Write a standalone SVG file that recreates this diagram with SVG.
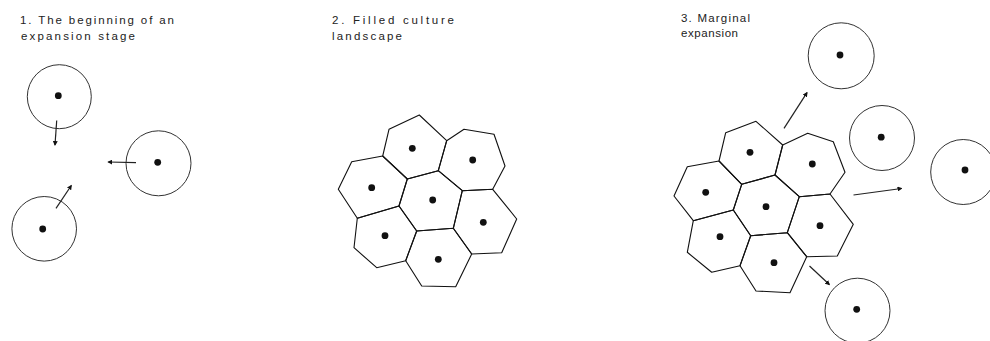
<svg xmlns="http://www.w3.org/2000/svg" width="990" height="341" viewBox="0 0 990 341">
<defs>
<style>
.t{font-family:"Liberation Sans",Arial,sans-serif;font-size:11.5px;fill:#222;}
.c{fill:none;stroke:#333;stroke-width:1;}
.h{fill:none;stroke:#111;stroke-width:1.1;stroke-linejoin:round;}
.d{fill:#111;}
.a{fill:none;stroke:#222;stroke-width:1.2;marker-end:url(#ah);}
</style>
<marker id="ah" viewBox="0 0 10 10" refX="8" refY="5" markerWidth="5" markerHeight="5" orient="auto" markerUnits="userSpaceOnUse">
<path d="M0,0 L10,5 L0,10 Z" fill="#111"/>
</marker>
</defs>
<rect width="990" height="341" fill="#fff"/>

<g id="titles">
<text class="t" x="20" y="24" textLength="154" lengthAdjust="spacing">1. The beginning of an</text>
<text class="t" x="21" y="39.5" textLength="114" lengthAdjust="spacing">expansion stage</text>
<text class="t" x="332" y="24" textLength="122" lengthAdjust="spacing">2. Filled culture</text>
<text class="t" x="332" y="40" textLength="70" lengthAdjust="spacing">landscape</text>
<text class="t" x="681" y="22" textLength="69" lengthAdjust="spacing">3. Marginal</text>
<text class="t" x="681" y="37" textLength="57" lengthAdjust="spacing">expansion</text>
</g>

<!-- Panel 1 -->
<g id="p1-settlement-a"><circle class="c" cx="59.3" cy="96.7" r="32"/><circle class="d" cx="58.3" cy="95.7" r="3.4"/></g>
<g id="p1-settlement-b"><circle class="c" cx="158.5" cy="163.3" r="32.5"/><circle class="d" cx="157.7" cy="162.3" r="3.4"/></g>
<g id="p1-settlement-c"><circle class="c" cx="44.2" cy="228.8" r="32.3"/><circle class="d" cx="42.7" cy="229" r="3.4"/></g>

<!-- Panel 2 -->
<g id="p2-cell-top"><polygon class="h" points="389,129.3 419.3,115 446.7,140.7 438.3,170.7 407.3,179 382.7,156"/><circle class="d" cx="412.3" cy="148.3" r="3.4"/></g>
<g id="p2-cell-right-top"><polygon class="h" points="446.7,140.7 464,129.3 494,134.3 505,166 492.7,189.3 462.3,190.7 438.3,170.7"/><circle class="d" cx="472.7" cy="160" r="3.4"/></g>
<g id="p2-cell-left"><polygon class="h" points="382.7,156 351.7,161.7 338.3,189.3 357.3,218.3 399,206 407.3,179"/><circle class="d" cx="371.7" cy="187.7" r="3.4"/></g>
<g id="p2-cell-center"><polygon class="h" points="407.3,179 438.3,170.7 462.3,190.7 453.3,228.3 416.7,231 399,206"/><circle class="d" cx="432.7" cy="200" r="3.4"/></g>
<g id="p2-cell-right-bottom"><polygon class="h" points="462.3,190.7 492.7,189.3 516.7,219 501.7,252.7 471.7,254 453.3,228.3"/><circle class="d" cx="483.3" cy="222.3" r="3.4"/></g>
<g id="p2-cell-left-bottom"><polygon class="h" points="357.3,218.3 399,206 416.7,231 405.7,260.7 376.7,267.7 354,247.7"/><circle class="d" cx="385" cy="235.7" r="3.4"/></g>
<g id="p2-cell-bottom"><polygon class="h" points="416.7,231 453.3,228.3 471.7,254 455.7,286.7 421.7,286 405.7,260.7"/><circle class="d" cx="438.3" cy="259.3" r="3.4"/></g>

<!-- Panel 3 -->
<g id="p3-cell-top"><polygon class="h" points="725.7,132.7 756,121.3 782.7,145 775,175 741.7,184.3 719,161"/><circle class="d" cx="750" cy="152.3" r="3.4"/></g>
<g id="p3-cell-right-top"><polygon class="h" points="782.7,145 807.7,133.3 833.3,141.7 845,172.3 830,194 799.3,196.7 775,175"/><circle class="d" cx="812.3" cy="164" r="3.4"/></g>
<g id="p3-cell-left"><polygon class="h" points="719,161 687.3,166.7 674,196 693.3,220.7 733.3,210 741.7,184.3"/><circle class="d" cx="705.7" cy="192.3" r="3.4"/></g>
<g id="p3-cell-center"><polygon class="h" points="741.7,184.3 775,175 799.3,196.7 787.3,232.7 750.7,235.7 733.3,210"/><circle class="d" cx="766" cy="206.7" r="3.4"/></g>
<g id="p3-cell-right-bottom"><polygon class="h" points="799.3,196.7 830,194 853.3,224.3 837.3,256 806.7,256.7 787.3,232.7"/><circle class="d" cx="820" cy="225.7" r="3.4"/></g>
<g id="p3-cell-left-bottom"><polygon class="h" points="693.3,220.7 733.3,210 750.7,235.7 740,265.7 711.7,272.3 687.3,252.3"/><circle class="d" cx="720" cy="236.7" r="3.4"/></g>
<g id="p3-cell-bottom"><polygon class="h" points="750.7,235.7 787.3,232.7 806.7,256.7 790,292.7 756,291 740,265.7"/><circle class="d" cx="774" cy="262.7" r="3.4"/></g>

<g id="p3-settlement-top"><circle class="c" cx="841.2" cy="55.8" r="33"/><circle class="d" cx="840" cy="55" r="3.4"/></g>
<g id="p3-settlement-middle"><circle class="c" cx="882" cy="138" r="32.5"/><circle class="d" cx="881.2" cy="137.2" r="3.4"/></g>
<g id="p3-settlement-right"><circle class="c" cx="963.2" cy="172" r="32.5"/><circle class="d" cx="965" cy="170" r="3.4"/></g>
<g id="p3-settlement-bottom"><circle class="c" cx="857.5" cy="310.7" r="32.5"/><circle class="d" cx="856.7" cy="309.3" r="3.4"/></g>

<g id="connectors">
<line class="a" x1="56.7" y1="120.5" x2="55" y2="145"/>
<line class="a" x1="136" y1="162.7" x2="108.3" y2="162"/>
<line class="a" x1="56" y1="208.3" x2="71.3" y2="185.5"/>
<line class="a" x1="784" y1="128.3" x2="807" y2="92.7"/>
<line class="a" x1="853.5" y1="195" x2="901.5" y2="188.5"/>
<line class="a" x1="809.5" y1="266" x2="829.3" y2="284.5"/>
</g>
</svg>
